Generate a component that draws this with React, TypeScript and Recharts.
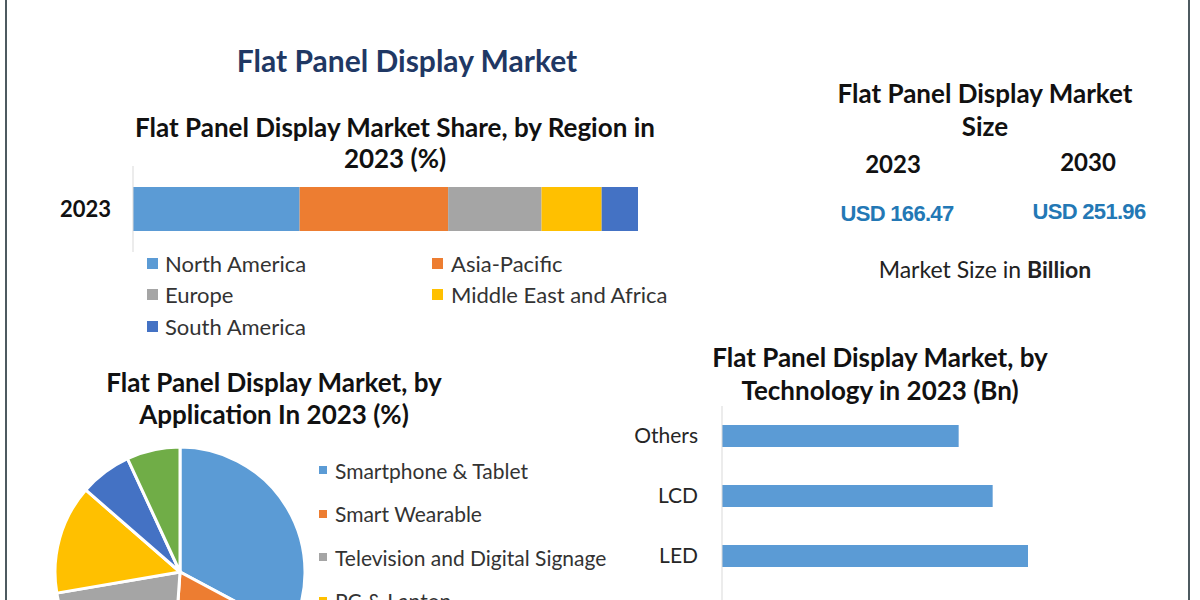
import { BarChart, Bar, XAxis, YAxis, PieChart, Pie, Cell } from "recharts";

const FONT = "Lato, 'Noto Sans', sans-serif";

const regionYear = "2023";
const regionNames = ["North America", "Asia-Pacific", "Europe", "Middle East and Africa", "South America"];
const regionShares = [33.0, 29.4, 18.5, 11.9, 7.2];
const regionColors = ["#5b9bd5", "#ed7d31", "#a5a5a5", "#ffc000", "#4472c4"];

const appNames = [
	"Smartphone & Tablet",
	"Smart Wearable",
	"Television and Digital Signage",
	"PC & Laptop",
	"Automotive",
	"Others",
];
const appShares = [32.8, 18.3, 21.2, 14.1, 6.7, 6.9];
const appColors = ["#5b9bd5", "#ed7d31", "#a5a5a5", "#ffc000", "#4472c4", "#70ad47"];

const techNames = ["Others", "LCD", "LED", "Quantum Dot"];
const techValues = [35.5, 40.6, 45.9, 30.0];

const sizeYears = ["2023", "2030"];
const sizeValues = ["USD 166.47", "USD 251.96"];

const regionData = [
	regionNames.reduce((row: Record<string, string | number>, name, i) => {
		row[name] = regionShares[i];
		return row;
	}, { year: regionYear }),
];
const appData = appNames.map((name, i) => ({ name, value: appShares[i] }));
const techData = techNames.map((name, i) => ({ name, value: techValues[i] }));

function Label({ x, y, size, bold, color, children }: any) {
	return (
		<div
			style={{
				position: "absolute",
				left: x,
				top: y,
				transform: "translate(-50%, -50%)",
				whiteSpace: "nowrap",
				fontFamily: FONT,
				fontSize: size,
				fontWeight: bold ? 700 : 400,
				color: color ?? "#111",
				lineHeight: 1,
			}}
		>
			{children}
		</div>
	);
}

const usdStyle: React.CSSProperties = {
	position: "absolute",
	transform: "translate(-50%, -50%)",
	whiteSpace: "nowrap",
	fontFamily: "'Liberation Sans', Arial, sans-serif",
	fontWeight: 700,
	fontSize: 22,
	letterSpacing: -0.7,
	color: "#2378b5",
	lineHeight: 1,
};

export default function App() {
	return (
		<div
			style={{
				position: "fixed",
				top: 0,
				left: 0,
				width: 1200,
				height: 600,
				overflow: "hidden",
				background: "#fff",
				fontFamily: FONT,
			}}
		>
			{/* frame sides */}
			<div style={{ position: "absolute", left: 5, top: 0, width: 2, height: 600, background: "#4d5a60" }} />
			<div style={{ position: "absolute", left: 1188, top: 0, width: 2, height: 600, background: "#4d5a60" }} />

			<Label x={407} y={60} size={30} bold color="#1f3864">
				Flat Panel Display Market
			</Label>

			{/* region share */}
			<Label x={395} y={127} size={26} bold>
				Flat Panel Display Market Share, by Region in
			</Label>
			<Label x={395} y={158} size={26} bold>
				2023 (%)
			</Label>
			<div style={{ position: "absolute", left: 0, top: 166 }}>
				<BarChart
					width={638}
					height={86}
					data={regionData}
					layout="vertical"
					margin={{ top: 0, right: 0, bottom: 0, left: 0 }}
					barSize={44}
				>
					<XAxis type="number" domain={[0, 100]} hide />
					<YAxis
						type="category"
						dataKey="year"
						width={133}
						axisLine={{ stroke: "#d9d9d9" }}
						tickLine={false}
						tickSize={0}
						tickMargin={22}
						tick={{ fontFamily: FONT, fontSize: 22, fontWeight: 700, fill: "#111" }}
					/>
					{regionNames.map((name, i) => (
						<Bar key={name} dataKey={name} stackId="r" fill={regionColors[i]} isAnimationActive={false} />
					))}
				</BarChart>
			</div>
			{regionNames.map((name, i) => {
				const col = i % 2;
				const row = Math.floor(i / 2);
				const left = col === 0 ? 147 : 432;
				const top = 263 + row * 31.5;
				return (
					<div
						key={name}
						style={{
							position: "absolute",
							left,
							top: top - 13,
							height: 26,
							display: "flex",
							alignItems: "center",
							whiteSpace: "nowrap",
							fontSize: 22,
							color: "#333",
						}}
					>
						<span style={{ width: 11, height: 11, background: regionColors[i], marginRight: col === 0 ? 7 : 8 }} />
						{name}
					</div>
				);
			})}

			{/* market size */}
			<Label x={985} y={93} size={26} bold>
				Flat Panel Display Market
			</Label>
			<Label x={985} y={126} size={26} bold>
				Size
			</Label>
			<Label x={893} y={164} size={24} bold>
				{sizeYears[0]}
			</Label>
			<Label x={1088} y={162} size={24} bold>
				{sizeYears[1]}
			</Label>
			<div style={{ ...usdStyle, left: 897, top: 214 }}>{sizeValues[0]}</div>
			<div style={{ ...usdStyle, left: 1089, top: 212 }}>{sizeValues[1]}</div>
			<Label x={985} y={269} size={23} color="#222">
				Market Size in <b>Billion</b>
			</Label>

			{/* application pie */}
			<Label x={274} y={382} size={26} bold>
				Flat Panel Display Market, by
			</Label>
			<Label x={274} y={414} size={26} bold>
				Application In 2023 (%)
			</Label>
			<div style={{ position: "absolute", left: 0, top: 440 }}>
				<PieChart width={360} height={264} margin={{ top: 0, right: 0, bottom: 0, left: 0 }}>
					<Pie
						data={appData}
						dataKey="value"
						nameKey="name"
						cx={180}
						cy={132}
						outerRadius={125}
						startAngle={90}
						endAngle={-270}
						stroke="#fff"
						strokeWidth={3}
						isAnimationActive={false}
					>
						{appData.map((d, i) => (
							<Cell key={d.name} fill={appColors[i]} />
						))}
					</Pie>
				</PieChart>
			</div>
			{appNames.map((name, i) => (
				<div
					key={name}
					style={{
						position: "absolute",
						left: 319,
						top: 470 + i * 43.5 - 13,
						height: 26,
						display: "flex",
						alignItems: "center",
						whiteSpace: "nowrap",
						fontSize: 21,
						color: "#333",
					}}
				>
					<span style={{ width: 8, height: 8, background: appColors[i], marginRight: 8 }} />
					{name}
				</div>
			))}

			{/* technology bars */}
			<Label x={880} y={357} size={26} bold>
				Flat Panel Display Market, by
			</Label>
			<Label x={880} y={390} size={26} bold>
				Technology in 2023 (Bn)
			</Label>
			<div style={{ position: "absolute", left: 600, top: 406 }}>
				<BarChart
					width={522}
					height={240}
					data={techData}
					layout="vertical"
					margin={{ top: 0, right: 0, bottom: 0, left: 0 }}
					barSize={22}
				>
					<XAxis type="number" domain={[0, 60]} hide />
					<YAxis
						type="category"
						dataKey="name"
						width={122}
						axisLine={{ stroke: "#d9d9d9" }}
						tickLine={false}
						tickSize={0}
						tickMargin={24}
						tick={{ fontFamily: FONT, fontSize: 21, fill: "#262626" }}
					/>
					<Bar dataKey="value" fill="#5b9bd5" isAnimationActive={false} />
				</BarChart>
			</div>
		</div>
	);
}
